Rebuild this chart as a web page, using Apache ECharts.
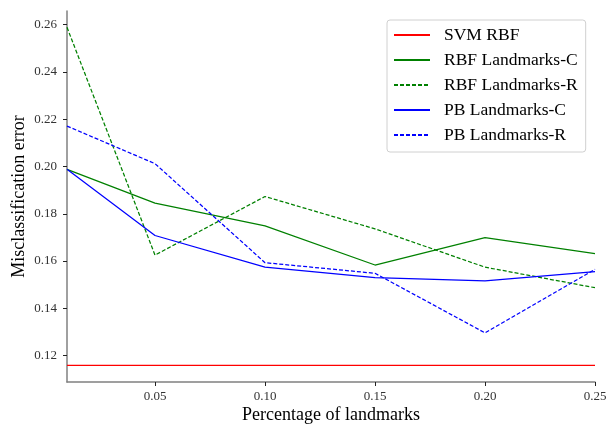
<!DOCTYPE html>
<html><head><meta charset="utf-8">
<script src="https://cdn.jsdelivr.net/npm/echarts@6/dist/echarts.min.js"></script>
<style>html,body{margin:0;padding:0;background:#fff}#c{width:608px;height:424px}</style>
</head><body><div id="c"></div>
<script>
var xValues = [0.01, 0.05, 0.10, 0.15, 0.20, 0.25];
var svmRbf = [0.1158, 0.1158, 0.1158, 0.1158, 0.1158, 0.1158];
var rbfLandmarksC = [0.1988, 0.1845, 0.1749, 0.1583, 0.1699, 0.1631];
var rbfLandmarksR = [0.2589, 0.1625, 0.1873, 0.1736, 0.1574, 0.1487];
var pbLandmarksC = [0.1988, 0.1708, 0.1574, 0.1530, 0.1516, 0.1555];
var pbLandmarksR = [0.2171, 0.2012, 0.1593, 0.1548, 0.1296, 0.1565];
var xTicks = [0.05, 0.10, 0.15, 0.20, 0.25];
var yTicks = [0.12, 0.14, 0.16, 0.18, 0.20, 0.22, 0.24, 0.26];

function pairs(ys){ return xValues.map(function(x,i){ return [x, ys[i]]; }); }
var font = '"Liberation Serif", "DejaVu Serif", serif';
function mk(name, data, color, type){
  return {name:name, type:'line', data:pairs(data), symbol:'none', showSymbol:false,
    lineStyle:{color:color, width:1.25, type:type}, itemStyle:{color:color}, animation:false, z:2};
}
var chart = echarts.init(document.getElementById('c'), null, {renderer:'canvas'});
chart.setOption({
  animation:false,
  backgroundColor:'#fff',
  grid:{left:67, right:13, top:11, bottom:42, containLabel:false, outerBoundsMode:'none'},
  xAxis:{type:'value', min:0.01, max:0.25,
    name:'Percentage of landmarks', nameLocation:'middle', nameGap:24, nameMoveOverlap:false,
    nameTextStyle:{fontFamily:font, fontSize:18, color:'#000'},
    axisLine:{show:true, lineStyle:{color:'#808080', width:1.5}},
    axisTick:{show:true, length:4, inside:false, customValues:xTicks, lineStyle:{color:'#222'}},
    axisLabel:{customValues:xTicks, formatter:function(v){return v.toFixed(2);}, fontFamily:font, fontSize:13, color:'#333', margin:8},
    splitLine:{show:false}},
  yAxis:{type:'value', min:0.1088, max:0.2658,
    name:'Misclassification error', nameLocation:'middle', nameGap:39, nameMoveOverlap:false,
    nameTextStyle:{fontFamily:font, fontSize:18, color:'#000'},
    axisLine:{show:true, lineStyle:{color:'#808080', width:1.5}},
    axisTick:{show:true, length:4, inside:false, customValues:yTicks, lineStyle:{color:'#222'}},
    axisLabel:{customValues:yTicks, formatter:function(v){return v.toFixed(2);}, fontFamily:font, fontSize:13, color:'#333', margin:10},
    splitLine:{show:false}},
  legend:{orient:'vertical', left:387, top:20, padding:[6,8,8,6],
    backgroundColor:'#fff', borderColor:'#d0d0d0', borderWidth:1, borderRadius:3,
    itemWidth:36, itemHeight:12, itemGap:7,
    itemStyle:{opacity:0},
    textStyle:{fontFamily:font, fontSize:17.5, lineHeight:18, color:'#000', padding:[0,0,0,9]},
    data:['SVM RBF','RBF Landmarks-C','RBF Landmarks-R','PB Landmarks-C','PB Landmarks-R']},
  series:[
    mk('SVM RBF', svmRbf, '#ff0000', 'solid'),
    mk('RBF Landmarks-C', rbfLandmarksC, '#008000', 'solid'),
    mk('RBF Landmarks-R', rbfLandmarksR, '#008000', [4,2]),
    mk('PB Landmarks-C', pbLandmarksC, '#0000ff', 'solid'),
    mk('PB Landmarks-R', pbLandmarksR, '#0000ff', [4,2])
  ]
});
</script></body></html>
